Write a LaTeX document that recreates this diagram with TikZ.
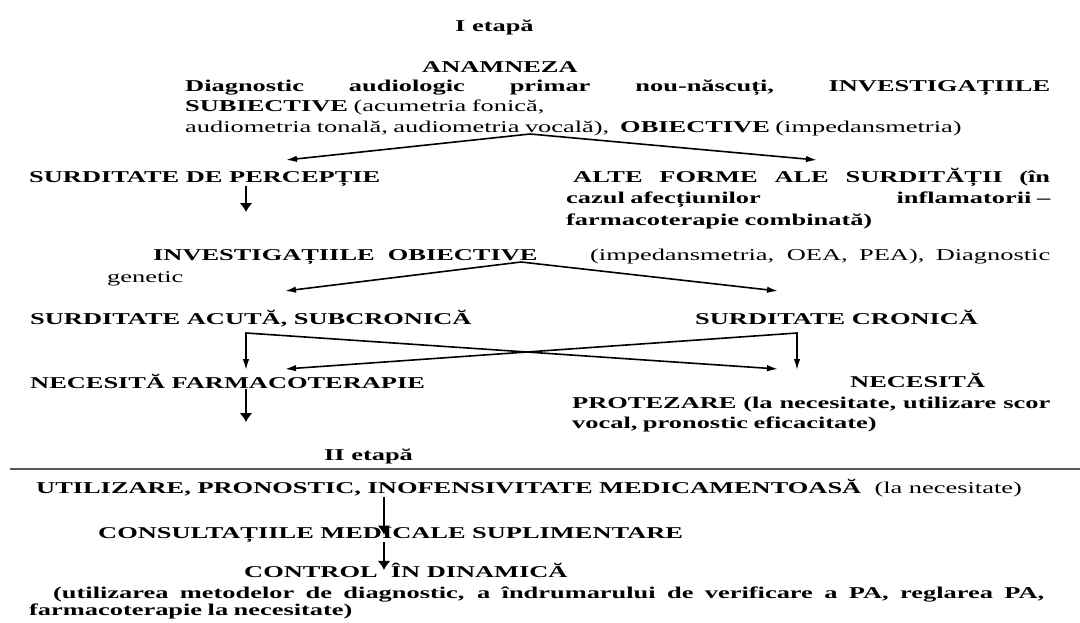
\documentclass[tikz,border=0pt]{standalone}
\usepackage{fontspec}
\setmainfont{Liberation Serif}[FakeStretch=1.6]
\usepackage{tikz}
\usetikzlibrary{arrows,arrows.meta,positioning,shapes}
\newcommand{\spreadline}[2]{\makebox[#1][s]{\spaceskip=0pt\xspaceskip=0pt #2}}

\begin{document}
\begin{tikzpicture}[x=1pt,y=-1pt,
	txt/.style={anchor=base west,inner sep=0pt,font=\fontsize{16.5}{20.5}\selectfont\bfseries},
	block/.style={txt,text width=#1},
	fork/.style={line width=1.6pt,{Latex[length=11pt,width=6.5pt]}-{Latex[length=11pt,width=6.5pt]}},
	down/.style={line width=2.6pt,-{Latex[length=9pt,width=13pt]}}]
	\useasboundingbox (0,0) rectangle (1080,622);
	
	\node[txt] (etapa1) at (455,31) {I etapă};
	\node[txt] (anamneza) at (422,72) {ANAMNEZA};
	\node[block=865pt] (primar) at (185,91) {%
		\spreadline{865pt}{Diagnostic audiologic primar nou-născuți, INVESTIGAȚIILE}\\
		SUBIECTIVE {\mdseries (acumetria fonică,}\\
		{\mdseries audiometria tonală, audiometria vocală),}\ \ OBIECTIVE {\mdseries (impedansmetria)}};
	\node[txt] (percep) at (29,182) {SURDITATE DE PERCEPȚIE};
	\node[block=484pt,font=\fontsize{16.5}{21.5}\selectfont\bfseries] (alte) at (566,182) {%
		\spreadline{484pt}{\hspace*{7pt}ALTE FORME ALE SURDITĂȚII (în}\\
		\makebox[484pt][l]{cazul afecțiunilor\hfill inflamatorii –}\\
		farmacoterapie combinată)};
	\node[txt] (invobj) at (153,260) {INVESTIGAȚIILE\ \ OBIECTIVE};
	\node[txt,font=\fontsize{16.5}{20.5}\selectfont] (impedans) at (590,260) {\spreadline{460pt}{(impedansmetria, OEA, PEA), Diagnostic}};
	\node[txt,font=\fontsize{16.5}{20.5}\selectfont] (genetic) at (107,282) {genetic};
	\node[txt] (acuta) at (30,324.5) {SURDITATE ACUTĂ, SUBCRONICĂ};
	\node[txt] (cronica) at (695,324.5) {SURDITATE CRONICĂ};
	\node[txt] (farmaco) at (30,388.5) {NECESITĂ FARMACOTERAPIE};
	\node[block=478pt] (protez) at (572,387.5) {%
		\hspace*{278pt}NECESITĂ\\
		\spreadline{478pt}{PROTEZARE (la necesitate, utilizare scor}\\
		vocal, pronostic eficacitate)};
	\node[txt] (etapa2) at (324,460) {II etapă};
	\draw[black!65,line width=1.2pt] (10,469) -- (1080,469);
	\node[txt] (utiliz) at (36,493) {UTILIZARE, PRONOSTIC, INOFENSIVITATE MEDICAMENTOASĂ\ \ {\mdseries (la necesitate)}};
	\node[txt] (consult) at (98,538) {CONSULTAȚIILE MEDICALE SUPLIMENTARE};
	\node[txt] (control) at (244,577) {CONTROL\ \ ÎN DINAMICĂ};
	\node[block=1015pt,font=\fontsize{16.5}{17}\selectfont\bfseries] (metode) at (29,598) {%
		\spreadline{1015pt}{\hspace*{24pt}(utilizarea metodelor de diagnostic, a îndrumarului de verificare a PA, reglarea PA,}\\
		farmacoterapie la necesitate)};
	
	\coordinate (fork1) at (530,134);
	\coordinate (fork1l) at (286,160);
	\coordinate (fork1r) at (817,160);
	\coordinate (percepd) at (246,212);
	\coordinate (fork2) at (521,262);
	\coordinate (fork2l) at (285,291);
	\coordinate (fork2r) at (778,291);
	\coordinate (acutac) at (246,333);
	\coordinate (acutad) at (246,370);
	\coordinate (cronicac) at (797,333);
	\coordinate (cronicad) at (797,370);
	\coordinate (farmacor) at (285,369);
	\coordinate (proteza) at (778,369);
	\coordinate (farmacod) at (246,422);
	
	\draw[fork] (fork1l) -- (fork1) -- (fork1r);
	\draw[down] (percep.south -| percepd) -- (percepd);
	\draw[fork] (fork2l) -- (fork2) -- (fork2r);
	\draw[fork] (acutad) -- (acutac) -- (proteza);
	\draw[fork] (cronicad) -- (cronicac) -- (farmacor);
	\draw[down] (farmaco.south -| farmacod) -- (farmacod);
	\draw[down] (utiliz.south -| 384,0) -- (consult.center -| 384,0);
	\draw[down] (consult.south -| 384,0) -- (control.center -| 384,0);
\end{tikzpicture}
\end{document}
